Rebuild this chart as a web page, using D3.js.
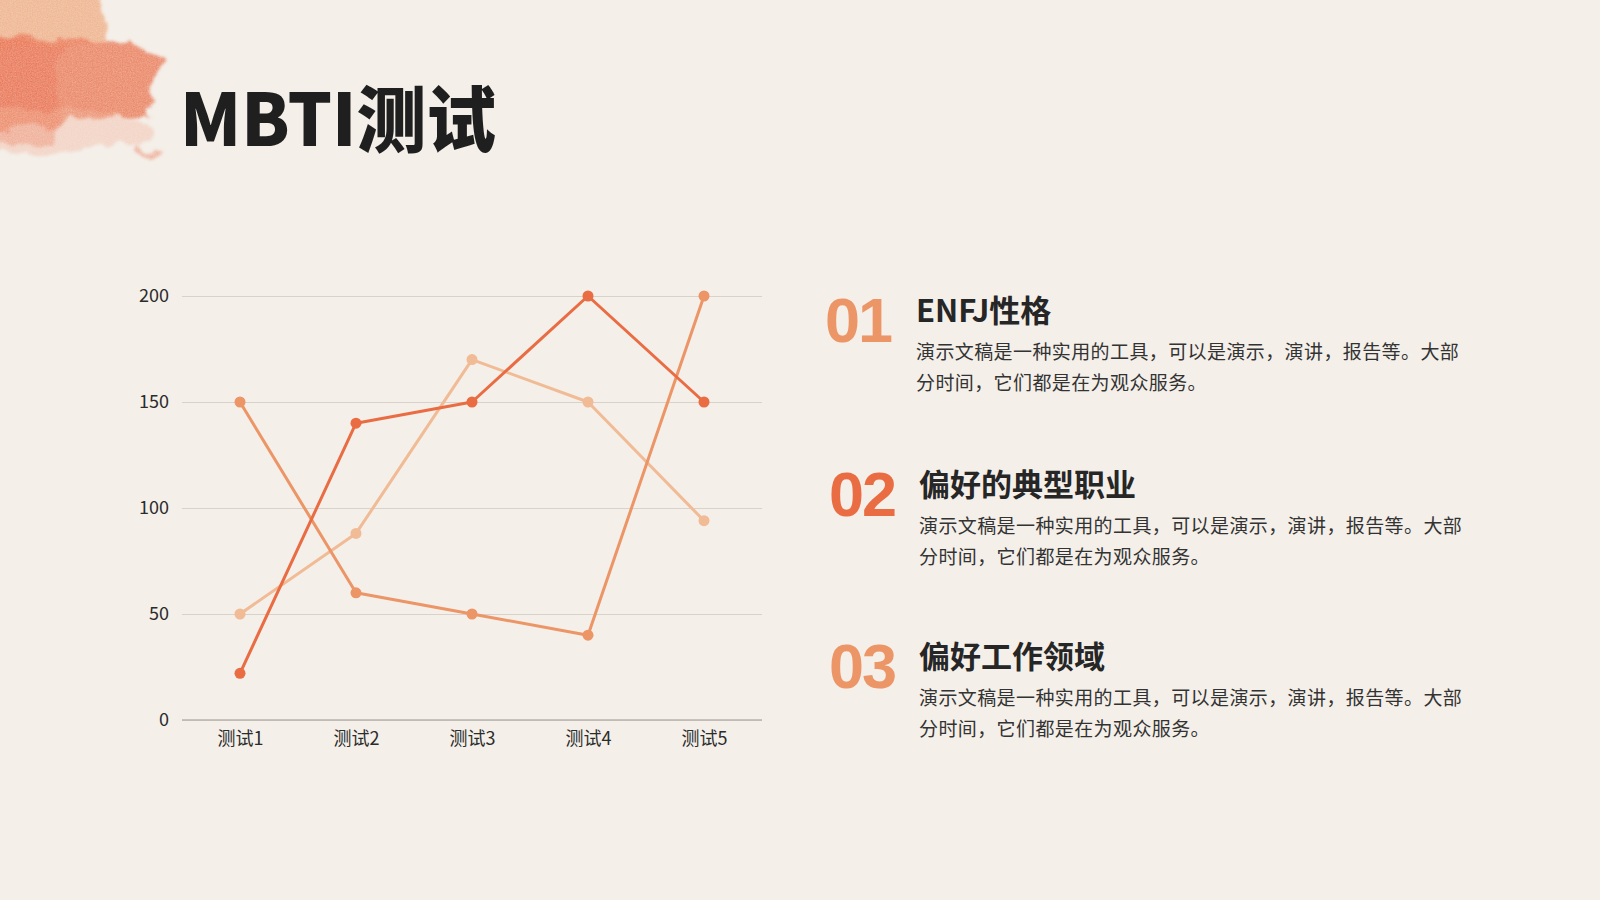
<!DOCTYPE html>
<html>
<head>
<meta charset="utf-8">
<script src="https://cdn.jsdelivr.net/npm/d3@7/dist/d3.min.js"></script>
<style>
  html, body { margin: 0; padding: 0; background: #f4efe9; }
  svg { display: block; }
</style>
</head>
<body>
<svg id="chart" width="1600" height="900"></svg>
<script>
// ---- data ----
const categories = ['测试1', '测试2', '测试3', '测试4', '测试5'];
const seriesA = [22, 140, 150, 200, 150];
const seriesB = [150, 60, 50, 40, 200];
const seriesC = [50, 88, 170, 150, 94];
const yTicks = [0, 50, 100, 150, 200];

const items = [
  { num: '01', title: 'ENFJ性格' },
  { num: '02', title: '偏好的典型职业' },
  { num: '03', title: '偏好工作领域' }
];
const bodyLines = ['演示文稿是一种实用的工具，可以是演示，演讲，报告等。大部', '分时间，它们都是在为观众服务。'];

const colors = { A: '#e96c43', B: '#ec9566', C: '#f0bb95' };
const numColors = ['#ec9566', '#e96c43', '#ec9566'];

const svg = d3.select('#chart');
svg.append('rect').attr('width', 1600).attr('height', 900).attr('fill', '#f4efe9');

// ---- watercolor decoration ----
const defs = svg.append('defs');
const f = defs.append('filter').attr('id', 'wc').attr('x', '-30%').attr('y', '-30%').attr('width', '160%').attr('height', '160%');
f.append('feTurbulence').attr('type', 'fractalNoise').attr('baseFrequency', '0.03').attr('numOctaves', 4).attr('seed', 7).attr('result', 'n');
f.append('feDisplacementMap').attr('in', 'SourceGraphic').attr('in2', 'n').attr('scale', 30).attr('xChannelSelector', 'R').attr('yChannelSelector', 'G').attr('result', 'd');
f.append('feGaussianBlur').attr('in', 'd').attr('stdDeviation', 1.5).attr('result', 'b');
f.append('feTurbulence').attr('type', 'fractalNoise').attr('baseFrequency', '0.8').attr('numOctaves', 2).attr('seed', 2).attr('result', 'g');
f.append('feColorMatrix').attr('in', 'g').attr('type', 'matrix')
  .attr('values', '0 0 0 0 0  0 0 0 0 0  0 0 0 0 0  0 0 0 -0.5 1.1').attr('result', 'gm');
f.append('feComposite').attr('in', 'b').attr('in2', 'gm').attr('operator', 'in');

const deco = svg.append('g').attr('filter', 'url(#wc)');
deco.append('path').attr('d', 'M-20,-20 L95,-20 C100,5 112,22 108,40 C80,50 40,46 -20,50 Z')
  .attr('fill', '#f0b088').attr('opacity', 0.9);
deco.append('path').attr('d', 'M-20,40 C30,30 70,44 110,40 C140,42 165,52 160,70 C158,88 150,98 150,112 C110,122 60,118 -20,135 Z')
  .attr('fill', '#eb7a56').attr('opacity', 0.88);
deco.append('path').attr('d', 'M-20,40 C20,36 45,44 60,48 C50,80 60,110 55,140 L-20,140 Z')
  .attr('fill', '#e8694a').attr('opacity', 0.45);
deco.append('path').attr('d', 'M-20,110 C40,108 100,112 150,118 C160,132 140,142 120,150 C70,152 20,148 -20,150 Z')
  .attr('fill', '#f2ad92').attr('opacity', 0.4);
deco.append('path').attr('d', 'M130,146 L162,147 L160,153 L128,152 Z').attr('fill', '#ec8f72').attr('opacity', 0.6);

// ---- title ----
svg.append('text').attr('x', 180).attr('y', 146)
  .attr('font-family', '"Noto Sans CJK SC", sans-serif').attr('font-weight', 900)
  .attr('font-size', 72).attr('fill', '#1f1f1f')
  .attr('textLength', 316).attr('lengthAdjust', 'spacingAndGlyphs')
  .text('MBTI测试');

// ---- chart ----
const x = d3.scalePoint().domain(categories).range([182, 762]).padding(0.5);
const y = d3.scaleLinear().domain([0, 200]).range([720, 296]);

const gy = svg.append('g').attr('transform', 'translate(182,0)')
  .call(d3.axisLeft(y).tickValues(yTicks).tickSize(-580).tickPadding(13));
gy.select('.domain').remove();
gy.selectAll('.tick line').attr('stroke', '#d8d2cb').attr('stroke-width', 1);
gy.selectAll('.tick text').attr('font-family', '"Noto Sans CJK SC", sans-serif').attr('font-size', 18).attr('fill', '#2b2b2b');

const gx = svg.append('g').attr('transform', 'translate(0,720)')
  .call(d3.axisBottom(x).tickSize(0).tickPadding(12));
gx.select('.domain').attr('stroke', '#b9b3ac').attr('stroke-width', 1.5).attr('d', 'M182,0H762');
gx.selectAll('.tick text').attr('font-family', '"Noto Sans CJK SC", sans-serif').attr('font-size', 18).attr('fill', '#2b2b2b');

const line = d3.line().x((d, i) => x(categories[i])).y(d => y(d));
const series = [
  { vals: seriesC, color: colors.C },
  { vals: seriesB, color: colors.B },
  { vals: seriesA, color: colors.A }
];
series.forEach(s => {
  svg.append('path').datum(s.vals).attr('d', line)
    .attr('fill', 'none').attr('stroke', s.color).attr('stroke-width', 3).attr('stroke-linejoin', 'round');
  svg.append('g').selectAll('circle').data(s.vals).join('circle')
    .attr('cx', (d, i) => x(categories[i])).attr('cy', d => y(d)).attr('r', 5.5).attr('fill', s.color);
});

// ---- right text blocks ----
const blockY = [0, 174, 346];
const numX = [825, 829, 829];
const textX = [916, 919, 919];
items.forEach((it, i) => {
  const base = blockY[i];
  svg.append('text').attr('x', numX[i]).attr('y', 342 + base)
    .attr('font-family', '"Liberation Sans", Arial, sans-serif').attr('font-weight', 700)
    .attr('font-size', 63).attr('letter-spacing', -2).attr('fill', numColors[i]).text(it.num);
  svg.append('text').attr('x', textX[i]).attr('y', 322 + base)
    .attr('font-family', '"Noto Sans CJK SC", sans-serif').attr('font-weight', 700)
    .attr('font-size', 31).attr('fill', '#262626').text(it.title);
  bodyLines.forEach((ln, j) => {
    svg.append('text').attr('x', textX[i]).attr('y', 359 + base + j * 31)
      .attr('font-family', '"Noto Sans CJK SC", sans-serif').attr('font-weight', 400)
      .attr('font-size', 19).attr('letter-spacing', 0.4).attr('fill', '#333').text(ln);
  });
});
</script>
</body>
</html>
